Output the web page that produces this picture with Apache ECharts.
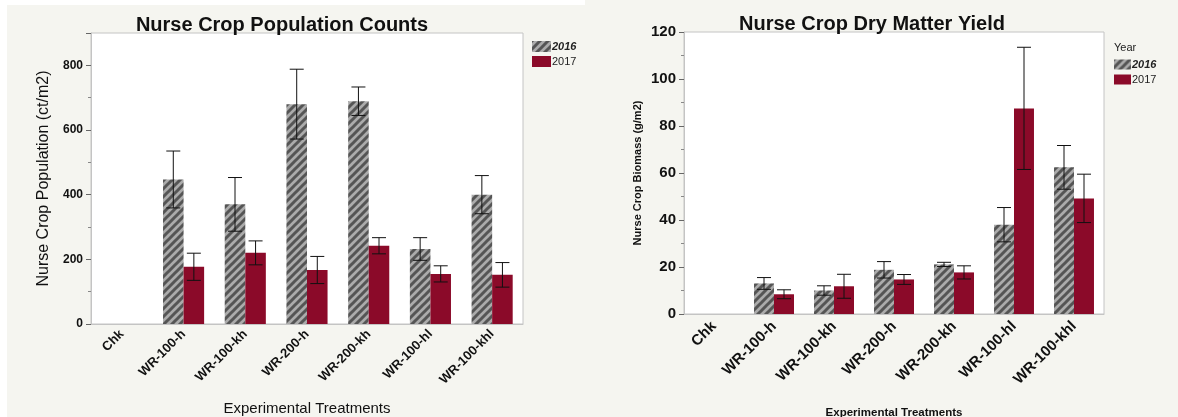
<!DOCTYPE html>
<html>
<head>
<meta charset="utf-8">
<script src="https://cdn.jsdelivr.net/npm/echarts@6/dist/echarts.min.js"></script>
<style>
  body { margin: 0; background: #fff; }
  #main { position: absolute; left: 0; top: 0; width: 1178px; height: 417px; background: #f5f5f0; }
  .edge { position: absolute; background: #fff; z-index: 5; }
</style>
</head>
<body>
<div id="main"></div>
<div class="edge" style="left:0;top:0;width:7px;height:417px"></div>
<div class="edge" style="left:0;top:0;width:585px;height:5px"></div>
<script>
var categories = ['Chk', 'WR-100-h', 'WR-100-kh', 'WR-200-h', 'WR-200-kh', 'WR-100-hl', 'WR-100-khl'];
var years = ['2016', '2017'];

// population counts (ct/m2), mean and error half-width
var pop2016 = [0, 447, 370, 680, 689, 232, 400];
var pop2016Err = [0, 88, 83, 108, 44, 35, 59];
var pop2017 = [0, 177, 220, 167, 242, 155, 152];
var pop2017Err = [0, 42, 37, 42, 25, 25, 38];

// dry matter yield (g/m2)
var dm2016 = [0, 13.0, 10.0, 18.8, 21.1, 38.0, 62.4];
var dm2016Err = [0, 2.5, 2.0, 3.5, 0.9, 7.3, 9.3];
var dm2017 = [0, 8.4, 11.8, 14.7, 17.7, 87.5, 49.2];
var dm2017Err = [0, 1.9, 5.1, 2.1, 2.8, 26.0, 10.3];

var FONT = "'Liberation Sans', Arial, sans-serif";
var red = '#8b0a29';

// striped fill for 2016
var tile = document.createElement('canvas');
tile.width = 8; tile.height = 8;
var c = tile.getContext('2d');
c.fillStyle = '#ababab';
c.fillRect(0, 0, 8, 8);
c.strokeStyle = '#555555';
c.lineWidth = 3;
c.beginPath();
c.moveTo(-2, 10); c.lineTo(10, -2);
c.moveTo(-6, 6); c.lineTo(6, -6);
c.moveTo(2, 14); c.lineTo(14, 2);
c.stroke();
var stripes = { image: tile, repeat: 'repeat' };

function errData(mean, err) {
    return mean.map(function (m, i) { return [i, m - err[i], m + err[i], err[i]]; });
}

function errSeries(mean, err, axis, side) {
    return {
        type: 'custom',
        xAxisIndex: axis, yAxisIndex: axis,
        silent: true, z: 5,
        data: errData(mean, err),
        renderItem: function (params, api) {
            if (!api.value(3)) return null;
            var band = api.size([1, 0])[0];
            var off = side * band / 6;
            var hi = api.coord([api.value(0), api.value(2)]);
            var lo = api.coord([api.value(0), api.value(1)]);
            var x = hi[0] + off, cap = 7;
            var st = { stroke: '#111', lineWidth: 1 };
            return {
                type: 'group',
                children: [
                    { type: 'line', shape: { x1: x, y1: hi[1], x2: x, y2: lo[1] }, style: st },
                    { type: 'line', shape: { x1: x - cap, y1: hi[1], x2: x + cap, y2: hi[1] }, style: st },
                    { type: 'line', shape: { x1: x - cap, y1: lo[1], x2: x + cap, y2: lo[1] }, style: st }
                ]
            };
        }
    };
}

function barSeries(name, data, axis, color) {
    return {
        name: name, type: 'bar',
        xAxisIndex: axis, yAxisIndex: axis,
        barWidth: '33.3%', barGap: '0%',
        itemStyle: { color: color },
        emphasis: { disabled: true },
        data: data
    };
}

var legendItems = [
    { name: '2016', textStyle: { fontStyle: 'italic', fontWeight: 'bold' } },
    { name: '2017' }
];

function xAxisCfg(idx, size, margin, nameSize, nameBold, gap) {
    return {
        type: 'category', gridIndex: idx, data: categories,
        axisLine: { lineStyle: { color: '#c4c4c4' } },
        axisTick: { show: false },
        axisLabel: { interval: 0, rotate: 45, margin: margin, color: '#111', fontWeight: 'bold', fontSize: size, fontFamily: FONT },
        name: 'Experimental Treatments', nameLocation: 'middle', nameGap: gap,
        nameTextStyle: { color: '#111', fontSize: nameSize, fontWeight: nameBold ? 'bold' : 'normal', fontFamily: FONT }
    };
}

var myChart = echarts.init(document.getElementById('main'));
var option = {
    animation: false,
    textStyle: { fontFamily: FONT },
    title: [
        { text: 'Nurse Crop Population Counts', left: 277, top: 10, textAlign: 'center',
          textStyle: { fontSize: 20, fontWeight: 'bold', color: '#111', fontFamily: FONT } },
        { text: 'Nurse Crop Dry Matter Yield', left: 867, top: 9, textAlign: 'center',
          textStyle: { fontSize: 20, fontWeight: 'bold', color: '#111', fontFamily: FONT } },
        { text: 'Year', left: 1109, top: 37,
          textStyle: { fontSize: 11, fontWeight: 'normal', color: '#222', fontFamily: FONT } }
    ],
    legend: [
        { left: 527, top: 36, orient: 'vertical', icon: 'rect', itemWidth: 19, itemHeight: 11, itemGap: 4,
          data: legendItems, selectedMode: false,
          textStyle: { fontSize: 11, color: '#222', padding: [0, 0, 0, -4] } },
        { left: 1109, top: 54, orient: 'vertical', icon: 'rect', itemWidth: 17, itemHeight: 10, itemGap: 4,
          data: legendItems, selectedMode: false,
          textStyle: { fontSize: 11, color: '#222', padding: [0, 0, 0, -4] } }
    ],
    grid: [
        { left: 91, top: 33, width: 432, height: 291, outerBoundsMode: 'none', containLabel: false,
          show: true, backgroundColor: '#fff', borderColor: '#c4c4c4', borderWidth: 1 },
        { left: 684, top: 32, width: 420, height: 282, outerBoundsMode: 'none', containLabel: false,
          show: true, backgroundColor: '#fff', borderColor: '#c4c4c4', borderWidth: 1 }
    ],
    xAxis: [
        xAxisCfg(0, 13, 8, 15, false, 77),
        xAxisCfg(1, 15, 10, 11.5, true, 93)
    ],
    yAxis: [
        {
            type: 'value', gridIndex: 0, min: 0, max: 900, interval: 200,
            splitLine: { show: false },
            axisLine: { show: true, lineStyle: { color: '#c4c4c4' } },
            axisTick: { show: true, length: 5, lineStyle: { color: '#666' } },
            minorTick: { show: true, splitNumber: 2, length: 3, lineStyle: { color: '#888' } },
            axisLabel: { margin: 8, color: '#111', fontWeight: 'bold', fontSize: 12,
                         formatter: function (v) { return v % 200 === 0 ? v : ''; } },
            name: 'Nurse Crop Population (ct/m2)', nameLocation: 'middle', nameGap: 39,
            nameTextStyle: { color: '#111', fontSize: 16, fontFamily: FONT }
        },
        {
            type: 'value', gridIndex: 1, min: 0, max: 120, interval: 20,
            splitLine: { show: false },
            axisLine: { show: true, lineStyle: { color: '#c4c4c4' } },
            axisTick: { show: true, length: 5, lineStyle: { color: '#666' } },
            minorTick: { show: true, splitNumber: 2, length: 3, lineStyle: { color: '#888' } },
            axisLabel: { margin: 8, color: '#111', fontWeight: 'bold', fontSize: 15 },
            name: 'Nurse Crop Biomass (g/m2)', nameLocation: 'middle', nameGap: 41,
            nameTextStyle: { color: '#111', fontSize: 11, fontWeight: 'bold', fontFamily: FONT }
        }
    ],
    series: [
        barSeries('2016', pop2016, 0, stripes),
        barSeries('2017', pop2017, 0, red),
        barSeries('2016', dm2016, 1, stripes),
        barSeries('2017', dm2017, 1, red),
        errSeries(pop2016, pop2016Err, 0, -1),
        errSeries(pop2017, pop2017Err, 0, 1),
        errSeries(dm2016, dm2016Err, 1, -1),
        errSeries(dm2017, dm2017Err, 1, 1)
    ]
};
if (option && typeof option === "object") {
    myChart.setOption(option, true);
}
</script>
</body>
</html>
